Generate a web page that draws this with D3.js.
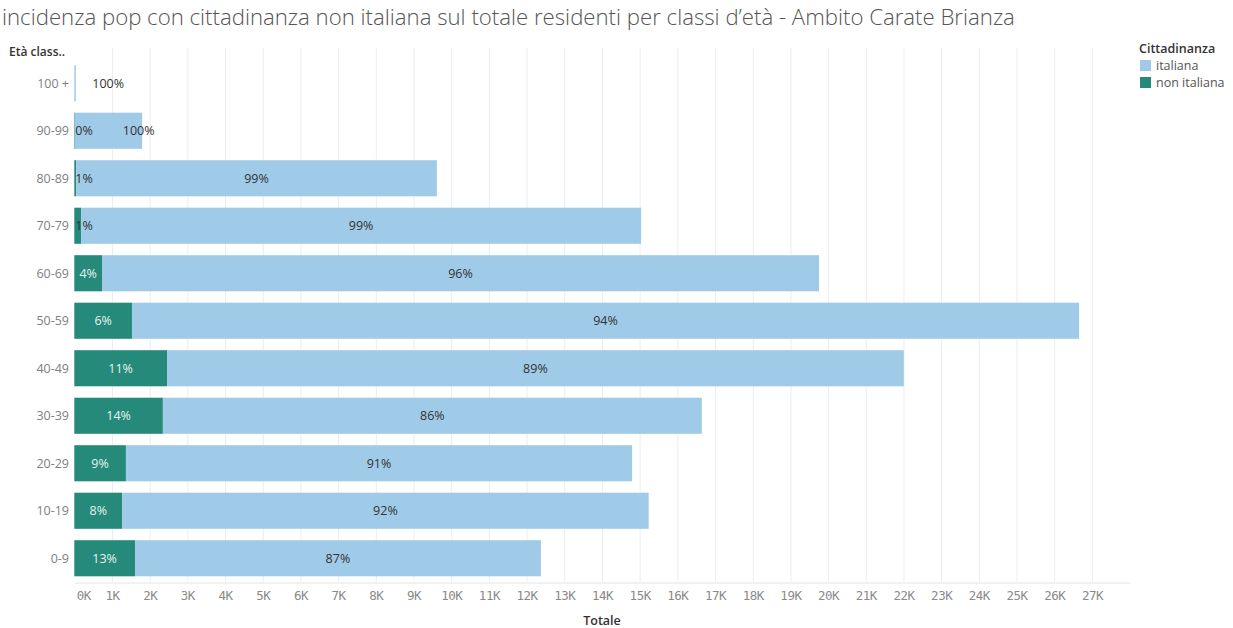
<!DOCTYPE html>
<html>
<head>
<meta charset="utf-8">
<script src="https://cdn.jsdelivr.net/npm/d3@7"></script>
<style>
  html, body { margin: 0; padding: 0; background: #fff; }
  svg { display: block; font-family: "Open Sans", "Noto Sans", sans-serif; }
</style>
</head>
<body>
<svg id="chart" width="1233" height="628"></svg>
<script>
// Age classes, top to bottom
const ageClasses = ["100 +", "90-99", "80-89", "70-79", "60-69", "50-59", "40-49", "30-39", "20-29", "10-19", "0-9"];
// Residents with Italian citizenship per age class
const italiana = [40, 1795, 9570, 14860, 19025, 25130, 19550, 14300, 13430, 13970, 10770];
// Residents without Italian citizenship per age class (none recorded for 100 +)
const nonItaliana = [null, 5, 50, 180, 735, 1530, 2460, 2350, 1370, 1270, 1610];
// Axis ticks (thousands)
const tickValues = d3.range(0, 28000, 1000);
const seriesNames = ["italiana", "non italiana"];
const colors = { "italiana": "#a0cbe8", "non italiana": "#258a79" };

const svg = d3.select("#chart");

const x = d3.scaleLinear().domain([0, 28000]).range([74.3, 1129.6]);
const y = d3.scaleBand().domain(ageClasses).range([59.5, 582]).paddingInner(0.24).paddingOuter(0.12);

// Title
const title = svg.append("text")
  .attr("x", 2).attr("y", 25)
  .attr("fill", "#555")
  .attr("font-size", 20)
  .attr("font-weight", 300)
  .text("incidenza pop con cittadinanza non italiana sul totale residenti per classi d\u2019età - Ambito Carate Brianza");
const tw = title.node().getComputedTextLength();
title.attr("font-size", 20 * 1013 / tw);

// Vertical gridlines
svg.append("g").selectAll("line")
  .data(tickValues.filter(d => d > 0))
  .join("line")
  .attr("x1", d => x(d) + 0.5).attr("x2", d => x(d) + 0.5)
  .attr("y1", 48).attr("y2", 582)
  .attr("stroke", "#ededed").attr("stroke-width", 1);

// Bottom axis
const xAxis = d3.axisBottom(x)
  .tickValues(tickValues)
  .tickSize(0)
  .tickPadding(9)
  .tickFormat(d => (d / 1000) + "K");
const gx = svg.append("g").attr("transform", "translate(0,582.5)").call(xAxis);
gx.select(".domain").attr("stroke", "#e4e4e4");
gx.selectAll("text")
  .attr("fill", "#8a8a8a")
  .attr("font-size", 12.5)
  .attr("font-family", "'DejaVu Sans Mono', monospace")
  .attr("letter-spacing", -0.5);
gx.selectAll(".tick").filter(d => d === 0).select("text")
  .attr("text-anchor", "start").attr("dx", 2);

// Axis titles
svg.append("text").attr("x", 602).attr("y", 625)
  .attr("text-anchor", "middle").attr("fill", "#333")
  .attr("font-size", 12.5).attr("font-weight", 600)
  .text("Totale");
svg.append("text").attr("x", 9).attr("y", 56)
  .attr("fill", "#333").attr("font-size", 12).attr("font-weight", 600)
  .text("Età class..");

// Row labels
svg.append("g").selectAll("text")
  .data(ageClasses)
  .join("text")
  .attr("x", 69)
  .attr("y", d => y(d) + y.bandwidth() / 2)
  .attr("dy", "0.35em")
  .attr("text-anchor", "end")
  .attr("fill", "#808080")
  .attr("font-size", 12.5)
  .text(d => d);

// Stacked rows: non italiana first, italiana after
const rows = ageClasses.map((a, i) => {
  const ni = nonItaliana[i] || 0;
  const it = italiana[i];
  const tot = ni + it;
  return { age: a, ni, it, tot, hasNi: nonItaliana[i] != null };
});

const gBars = svg.append("g");
const gLabels = svg.append("g");
const fontSize = 12.5;

rows.forEach(r => {
  const yb = y(r.age);
  const h = y.bandwidth();
  const cy = yb + h / 2;
  let niRight = null;
  if (r.hasNi) {
    const x0 = x(0), x1 = x(r.ni);
    gBars.append("rect")
      .attr("x", x0).attr("y", yb)
      .attr("width", Math.max(1, x1 - x0)).attr("height", h)
      .attr("fill", colors["non italiana"]);
    const t = gLabels.append("text")
      .attr("y", cy).attr("dy", "0.35em")
      .attr("font-size", fontSize)
      .text(Math.round(r.ni / r.tot * 100) + "%");
    const w = t.node().getComputedTextLength();
    const fits = (x1 - x0) > w + 6;
    const left = fits ? (x0 + x1) / 2 - w / 2 : x0 + 1;
    t.attr("x", left).attr("fill", fits ? "#e6f3f0" : "#333");
    niRight = left + w;
  }
  const x0 = x(r.ni), x1 = x(r.tot);
  gBars.append("rect")
    .attr("x", x0).attr("y", yb)
    .attr("width", Math.max(1.5, x1 - x0)).attr("height", h)
    .attr("fill", colors["italiana"]);
  const t = gLabels.append("text")
    .attr("y", cy).attr("dy", "0.35em")
    .attr("font-size", fontSize)
    .attr("fill", "#333")
    .text(Math.round(r.it / r.tot * 100) + "%");
  const w = t.node().getComputedTextLength();
  const minLeft = niRight != null ? niRight + 30 : x0 + 18;
  t.attr("x", Math.max((x0 + x1) / 2 - w / 2, minLeft));
});

// Legend
const lg = svg.append("g").attr("transform", "translate(1139,0)");
lg.append("text").attr("x", 0).attr("y", 53)
  .attr("fill", "#333").attr("font-size", 12.5).attr("font-weight", 600)
  .text("Cittadinanza");
seriesNames.forEach((s, i) => {
  lg.append("rect").attr("x", 1).attr("y", 60 + i * 17)
    .attr("width", 11).attr("height", 11).attr("fill", colors[s]);
  lg.append("text").attr("x", 17).attr("y", 66 + i * 17).attr("dy", "0.35em")
    .attr("fill", "#555").attr("font-size", 12.5).text(s);
});
</script>
</body>
</html>
